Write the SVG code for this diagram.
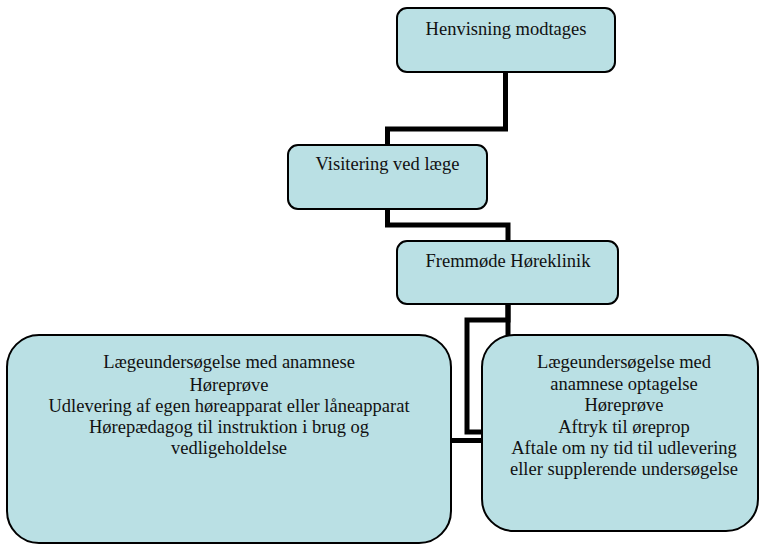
<svg xmlns="http://www.w3.org/2000/svg" width="760" height="545" viewBox="0 0 760 545">
<style>
.box{fill:#BAE0E4;stroke:#000;stroke-width:2}
.conn{fill:none;stroke:#000;stroke-width:5;stroke-linejoin:miter}
text{font-family:"Liberation Serif","Times New Roman",serif;font-size:18.5px;fill:#111;text-anchor:middle}
</style>
<rect x="0" y="0" width="760" height="545" fill="#fff"/>
<g id="connectors">
<path class="conn" d="M505.5 72 V129 H387.5 V145"/>
<path class="conn" d="M387.5 209 V225 H508 V241"/>
<path class="conn" d="M508 304 V335"/>
<path class="conn" d="M508 304 V320 H467 V432 H482"/>
<path class="conn" d="M451 440.5 H482"/>
</g>
<g id="n1">
<rect class="box" x="397" y="8" width="218" height="64" rx="10"/>
<text x="506" y="35">Henvisning modtages</text>
</g>
<g id="n2">
<rect class="box" x="288" y="145" width="199" height="64" rx="10"/>
<text x="387.5" y="170">Visitering ved læge</text>
</g>
<g id="n3">
<rect class="box" x="397" y="241" width="221" height="63" rx="10"/>
<text x="508" y="267">Fremmøde Høreklinik</text>
</g>
<g id="n4">
<rect class="box" x="7" y="335" width="444" height="208" rx="32"/>
<text x="229" y="368">Lægeundersøgelse med anamnese</text>
<text x="229" y="391">Høreprøve</text>
<text x="229" y="412">Udlevering af egen høreapparat eller låneapparat</text>
<text x="229" y="433">Hørepædagog til instruktion i brug og</text>
<text x="229" y="454">vedligeholdelse</text>
</g>
<g id="n5">
<rect class="box" x="482" y="335" width="276" height="196" rx="32"/>
<text x="624" y="368">Lægeundersøgelse med</text>
<text x="624" y="390">anamnese optagelse</text>
<text x="624" y="411">Høreprøve</text>
<text x="624" y="433">Aftryk til øreprop</text>
<text x="624" y="453.5">Aftale om ny tid til udlevering</text>
<text x="624" y="474.5">eller supplerende undersøgelse</text>
</g>
</svg>
